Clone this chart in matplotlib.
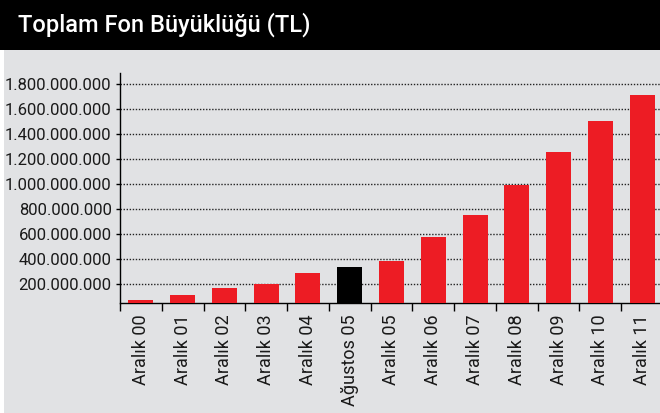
import matplotlib
matplotlib.use("Agg")
import matplotlib.pyplot as plt
from matplotlib.patches import Rectangle
from matplotlib.ticker import FuncFormatter, FixedLocator

# data
categories = ["Aralık 00", "Aralık 01", "Aralık 02", "Aralık 03", "Aralık 04",
              "Ağustos 05", "Aralık 05", "Aralık 06", "Aralık 07", "Aralık 08",
              "Aralık 09", "Aralık 10", "Aralık 11"]
values = [75e6, 115e6, 171e6, 202e6, 290e6, 337e6, 385e6,
          575e6, 758e6, 996e6, 1258e6, 1504e6, 1718e6]
highlight = "Ağustos 05"
yticks = [200e6, 400e6, 600e6, 800e6, 1000e6, 1200e6, 1400e6, 1600e6, 1800e6]

title = "Toplam Fon Büyüklüğü (TL)"

RED = "#ED1C24"
BG = "#E1E2E4"

plt.rcParams['font.family'] = ['Roboto', 'DejaVu Sans']

W, H = 660, 413
fig = plt.figure(figsize=(W / 100, H / 100), dpi=100)
fig.patch.set_facecolor("white")

# grey panel and black title band
fig.patches.append(Rectangle((4 / W, 0), 1, 363 / H, transform=fig.transFigure,
                             facecolor=BG, edgecolor="none", zorder=-10))
fig.patches.append(Rectangle((0, 363 / H), 1, 50 / H, transform=fig.transFigure,
                             facecolor="black", edgecolor="none", zorder=-10))
fig.text(18 / W, 388 / H, title, color="white", fontsize=17, fontweight="medium",
         va="center", ha="left")

ax = fig.add_axes([120 / W, 110 / H, 543 / W, 230 / H])
ax.set_facecolor("none")

x = list(range(len(categories)))
colors = ["black" if c == highlight else RED for c in categories]
ax.bar(x, values, width=0.6, color=colors, zorder=3)

ax.set_xlim(-0.5, len(categories) - 0.5)
ax.set_ylim(50e6, 1.89e9)

ax.yaxis.set_major_locator(FixedLocator(yticks))
ax.yaxis.set_major_formatter(FuncFormatter(lambda v, p: f"{int(v):,}".replace(",", ".")))
ax.grid(axis="y", linestyle=(0, (1, 1.2)), color="#222222", linewidth=1.0, zorder=1)

ax.set_xticks(x)
ax.set_xticklabels(categories, rotation=90, fontsize=13, color="#1a1a1a")
ax.tick_params(axis="x", length=0, pad=8)
ax.set_xticks([i - 0.5 for i in x], minor=True)
ax.tick_params(axis="x", which="minor", length=6, width=1, direction="out")
ax.tick_params(axis="y", length=3, width=1, labelsize=12, labelcolor="#1a1a1a", pad=3)

for s in ["top", "right"]:
    ax.spines[s].set_visible(False)
ax.spines["left"].set_linewidth(1)
ax.spines["bottom"].set_linewidth(1)

fig.savefig("out.png", dpi=100)
